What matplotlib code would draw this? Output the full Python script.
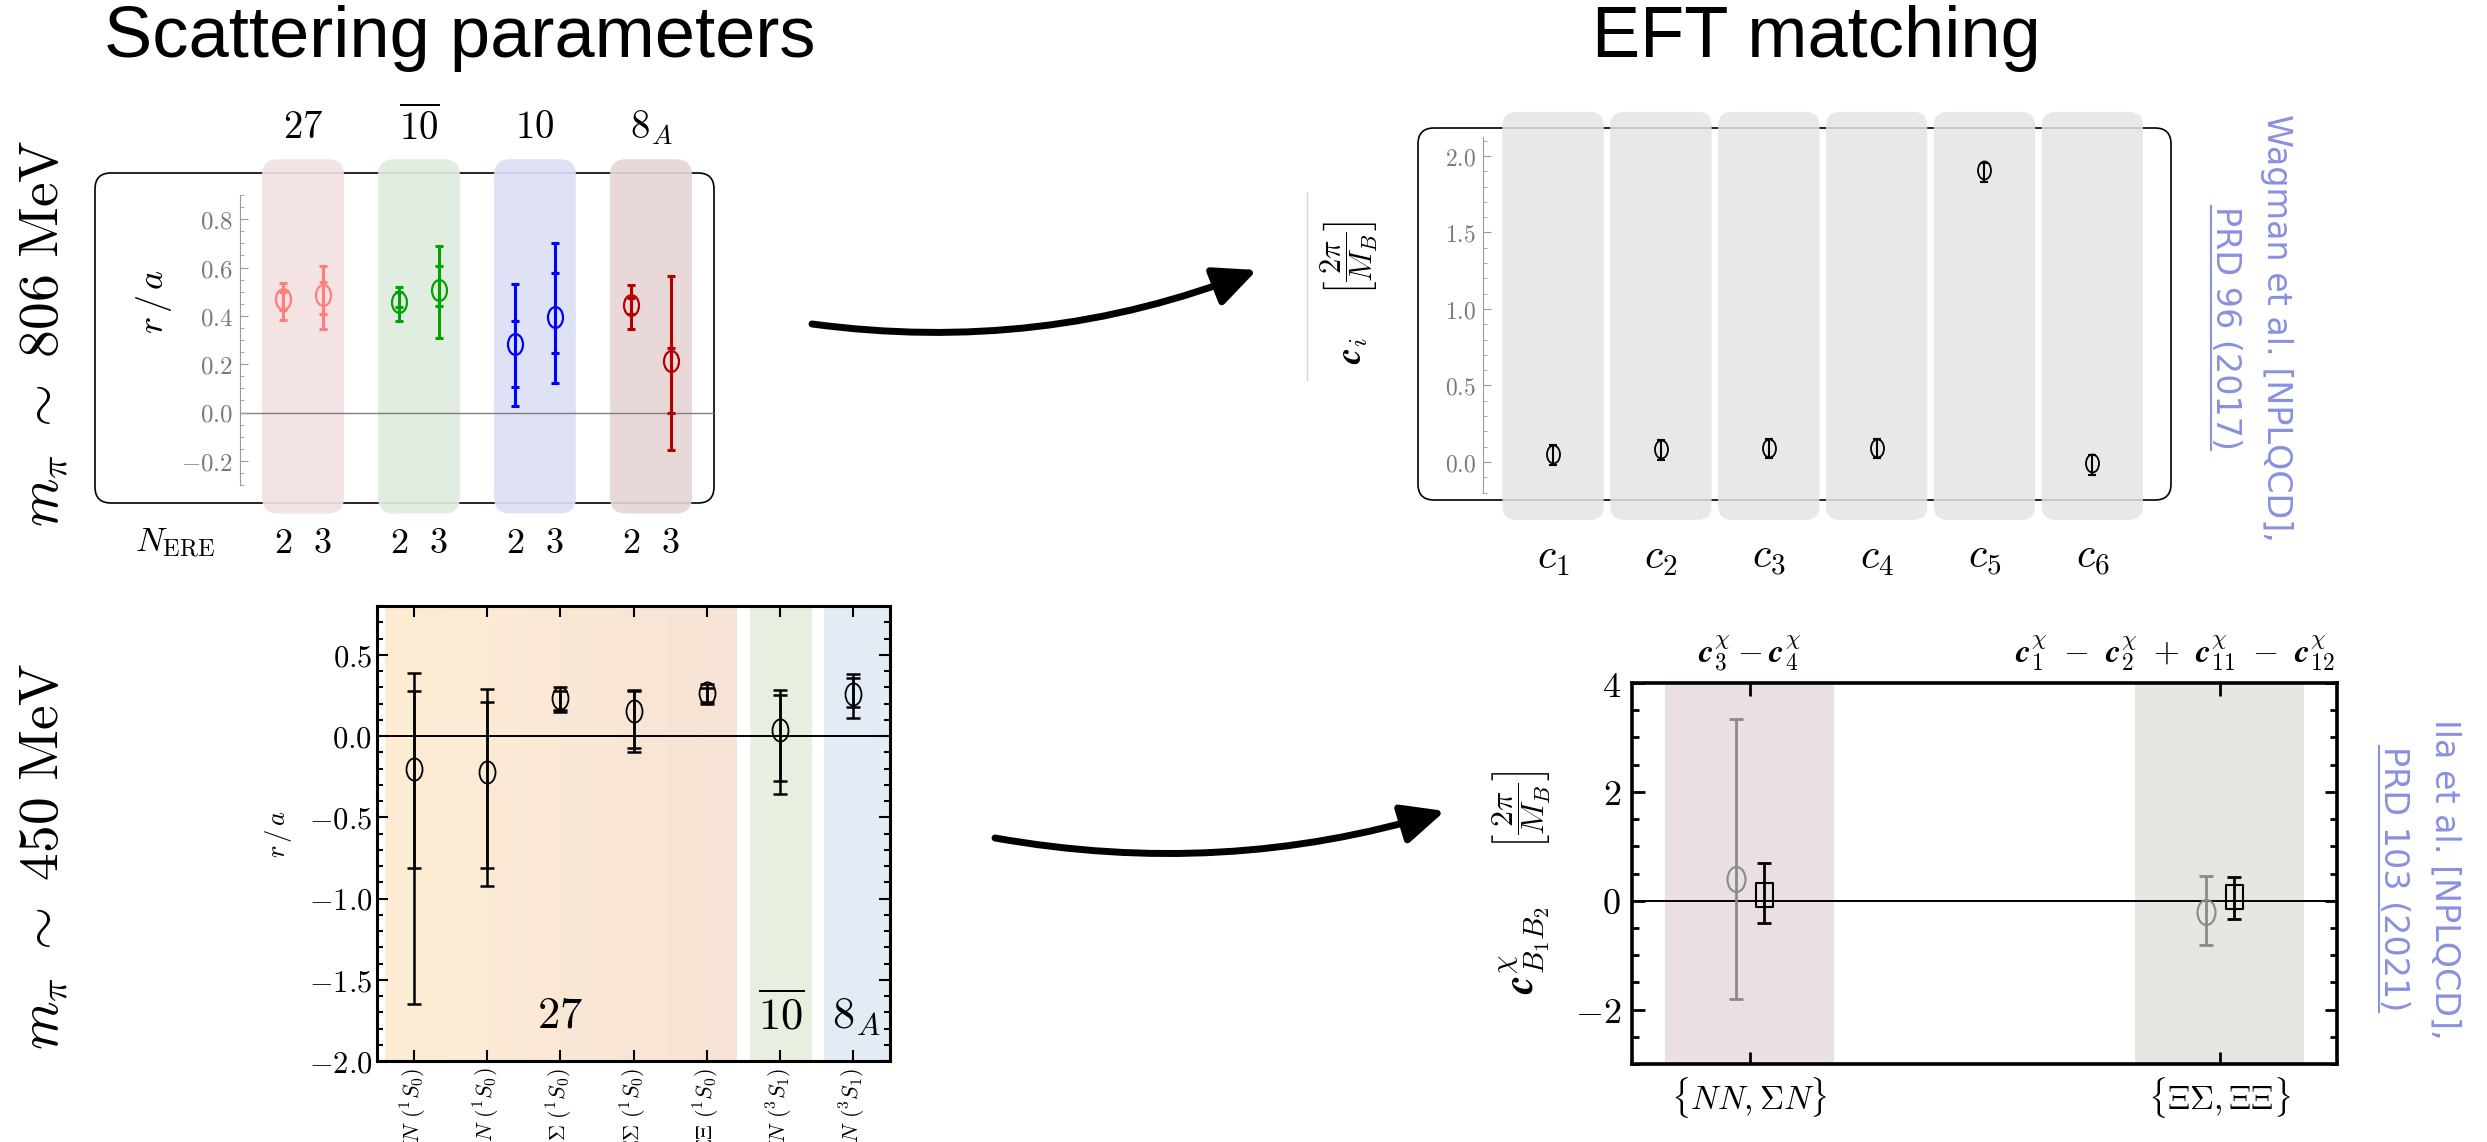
import numpy as np
import matplotlib
matplotlib.use('Agg')
import matplotlib.pyplot as plt
from matplotlib import font_manager as fm
from matplotlib.patches import FancyBboxPatch, FancyArrowPatch
from matplotlib.path import Path
from matplotlib.transforms import Affine2D
from matplotlib.ticker import MultipleLocator, FuncFormatter
from matplotlib.colors import LinearSegmentedColormap

plt.rcParams['mathtext.fontset'] = 'cm'
plt.rcParams['font.family'] = ['DejaVu Sans']

W, H = 2487, 1142

# --- m_pi ~ 806 MeV : r/a for each irrep, N_ERE = 2, 3
irreps_806 = [r'$27$', r'$\overline{10}$', r'$10$', r'$8_A$']
n_ere = [r'$2$', r'$3$']
ra806 = [0.469, 0.487, 0.459, 0.508, 0.284, 0.397, 0.446, 0.215]
ra806_in_lo = [0.425, 0.407, 0.436, 0.439, 0.105, 0.246, 0.408, -0.003]
ra806_in_hi = [0.500, 0.539, 0.500, 0.608, 0.378, 0.579, 0.473, 0.266]
ra806_out_lo = [0.381, 0.346, 0.377, 0.308, 0.028, 0.124, 0.346, -0.154]
ra806_out_hi = [0.535, 0.607, 0.521, 0.687, 0.530, 0.703, 0.527, 0.563]
colors_806 = ['#FF7D7D', '#00A300', '#0000FF', '#B50000']
bands_806 = ['#F2E1E1', '#E0ECE0', '#DDE0F5', '#E6D5D5']

# --- m_pi ~ 450 MeV : r/a per channel
channels_450 = [r'$NN\ (^1S_0)$', r'$\Sigma N\ (^1S_0)$', r'$\Sigma\Sigma\ (^1S_0)$',
                r'$\Xi\Sigma\ (^1S_0)$', r'$\Xi\Xi\ (^1S_0)$', r'$NN\ (^3S_1)$',
                r'$\Xi N\ (^3S_1)$']
ra450 = [-0.202, -0.222, 0.236, 0.152, 0.267, 0.039, 0.260]
ra450_in_lo = [-0.814, -0.814, 0.159, -0.072, 0.212, -0.275, 0.176]
ra450_in_hi = [0.280, 0.212, 0.280, 0.280, 0.296, 0.255, 0.357]
ra450_out_lo = [-1.648, -0.920, 0.145, -0.096, 0.195, -0.354, 0.111]
ra450_out_hi = [0.386, 0.289, 0.304, 0.284, 0.320, 0.284, 0.381]
irreps_450 = [r'$27$', r'$\overline{10}$', r'$8_A$']
irrep_span_450 = [(-0.39, 4.41), (4.59, 5.44), (5.60, 6.48)]

# --- EFT couplings c_i (Wagman et al.)
coef_labels = [r'$c_1$', r'$c_2$', r'$c_3$', r'$c_4$', r'$c_5$', r'$c_6$']
ci = [0.050, 0.083, 0.093, 0.093, 1.907, -0.009]
ci_lo = [-0.022, 0.013, 0.026, 0.026, 1.831, -0.085]
ci_hi = [0.109, 0.143, 0.148, 0.152, 1.954, 0.046]

# --- chiral combinations (Illa et al.)
combo_labels = [r'$\{NN, \Sigma N\}$', r'$\{\Xi\Sigma, \Xi\Xi\}$']
combo_titles = [r'$\mathbfit{c}^{\chi}_3 - \mathbfit{c}^{\chi}_4$',
                r'$\mathbfit{c}^{\chi}_1\ -\ \mathbfit{c}^{\chi}_2\ +\ \mathbfit{c}^{\chi}_{11}\ -\ \mathbfit{c}^{\chi}_{12}$']
cchi_a = [0.40, -0.20]
cchi_a_lo = [-1.80, -0.81]
cchi_a_hi = [3.33, 0.45]
cchi_b = [0.11, 0.06]
cchi_b_lo = [-0.41, -0.33]
cchi_b_hi = [0.69, 0.43]

# narrow sans for the reference notes, if it is there
try:
    fm.findfont('Liberation Sans Narrow', fallback_to_default=False)
    ref_font, ref_fs = 'Liberation Sans Narrow', 32
except ValueError:
    ref_font, ref_fs = 'DejaVu Sans', 24

ell = Path.unit_circle().transformed(Affine2D().scale(0.72, 1.0))
rect = Path.unit_rectangle().transformed(Affine2D().translate(-0.5, -0.5).scale(0.72, 1.0))

fig = plt.figure(figsize=(W / 100, H / 100), dpi=100)

# pixel overlay (y downward) for frames, arrows and free text
ov = fig.add_axes([0, 0, 1, 1], zorder=0)
ov.set_xlim(0, W)
ov.set_ylim(H, 0)
ov.axis('off')


def px_axes(x0, y0, x1, y1):
    ax = fig.add_axes([x0 / W, 1 - y1 / H, (x1 - x0) / W, (y1 - y0) / H], zorder=2)
    ax.set_facecolor('none')
    return ax


def band(ax, x0, x1, y0, y1, color, rpx, alpha=1.0):
    pos = ax.get_position()
    xl, yl = ax.get_xlim(), ax.get_ylim()
    ppx = pos.width * W / (xl[1] - xl[0])
    ppy = pos.height * H / (yl[1] - yl[0])
    r = rpx / ppx
    p = FancyBboxPatch((x0, y0), x1 - x0, y1 - y0,
                       boxstyle=f'round,pad=0,rounding_size={r}',
                       mutation_aspect=ppx / ppy, fc=color, ec='none',
                       alpha=alpha, clip_on=False, zorder=0)
    ax.add_patch(p)


def errs(ax, x, y, lo, hi, color, lw, cap):
    y, lo, hi = np.asarray(y), np.asarray(lo), np.asarray(hi)
    ax.errorbar(x, y, yerr=[y - lo, hi - y], fmt='none', ecolor=color,
                elinewidth=lw, capsize=cap, capthick=lw, zorder=3, clip_on=False)


def mathfmt(digits):
    def f(v, p):
        v = round(v, digits)
        if v == 0:
            v = 0.0
        return f'${v:.{digits}f}$'
    return FuncFormatter(f)


# ================= top-left: r/a at m_pi ~ 806 MeV =================
ov.add_patch(FancyBboxPatch((95, 173), 619, 330, boxstyle='round,pad=0,rounding_size=16',
                            fc='white', ec='black', lw=1.2))
ax1 = px_axes(240, 195, 714, 485)
ax1.set_xlim(-0.543, 3.543)
ax1.set_ylim(-0.30, 0.90)
for s in ['top', 'right', 'bottom']:
    ax1.spines[s].set_visible(False)
ax1.spines['left'].set_color('#9a9a9a')
ax1.set_xticks([])
ax1.yaxis.set_major_locator(MultipleLocator(0.2))
ax1.yaxis.set_minor_locator(MultipleLocator(0.05))
ax1.yaxis.set_major_formatter(mathfmt(1))
ax1.tick_params(axis='y', which='both', direction='in', color='#9a9a9a',
                labelcolor='#7a7a7a', labelsize=18, pad=5)
ax1.tick_params(axis='y', which='major', length=6)
ax1.tick_params(axis='y', which='minor', length=3)
ax1.axhline(0, color='#808080', lw=1, zorder=1)
offs = [-0.17, 0.17]
for g in range(4):
    band(ax1, g - 0.353, g + 0.353, -0.418, 1.048, bands_806[g], 16, alpha=0.92)
    ax1.text(g, 1.18, irreps_806[g], ha='center', va='center', fontsize=28)
    xs = [g + o for o in offs]
    sl = slice(2 * g, 2 * g + 2)
    errs(ax1, xs, ra806[sl], ra806_out_lo[sl], ra806_out_hi[sl], colors_806[g], 2.2, 3)
    errs(ax1, xs, ra806[sl], ra806_in_lo[sl], ra806_in_hi[sl], colors_806[g], 2.2, 3)
    ax1.plot(xs, ra806[sl], ls='none', marker=ell, ms=15, mfc='none',
             mec=colors_806[g], mew=1.6, zorder=4)
    for n in range(2):
        ax1.text(xs[n], -0.542, n_ere[n], ha='center', va='center', fontsize=26)
ov.text(175, 543, r'$N_{\mathrm{ERE}}$', ha='center', va='center', fontsize=25)
ov.text(154, 301, r'$r\,/\,a$', ha='center', va='center', fontsize=26, rotation=90)

# ================= top-right: c_i =================
ov.add_patch(FancyBboxPatch((1418, 128), 753, 372, boxstyle='round,pad=0,rounding_size=16',
                            fc='white', ec='black', lw=1.2))
ax2 = px_axes(1483, 137, 2171, 493)
ax2.set_xlim(-0.65, 5.73)
ax2.set_ylim(-0.203, 2.124)
for s in ['top', 'right', 'bottom']:
    ax2.spines[s].set_visible(False)
ax2.spines['left'].set_color('#9a9a9a')
ax2.set_xticks([])
ax2.yaxis.set_major_locator(MultipleLocator(0.5))
ax2.yaxis.set_minor_locator(MultipleLocator(0.1))
ax2.yaxis.set_major_formatter(mathfmt(1))
ax2.tick_params(axis='y', which='both', direction='in', color='#9a9a9a',
                labelcolor='#7a7a7a', labelsize=17, pad=5)
ax2.tick_params(axis='y', which='major', length=6)
ax2.tick_params(axis='y', which='minor', length=3)
xc = np.arange(len(ci))
for i in xc:
    band(ax2, i - 0.47, i + 0.47, -0.379, 2.288, '#E4E4E4', 14, alpha=0.85)
    ax2.text(i, -0.62, coef_labels[i], ha='center', va='center', fontsize=30)
errs(ax2, xc, ci, ci_lo, ci_hi, 'black', 1.5, 3)
ax2.plot(xc, ci, ls='none', marker=ell, ms=13, mfc='none', mec='black', mew=1.3, zorder=4)
ov.plot([1307, 1307], [192, 380], color='#d5d5d5', lw=1)
ov.text(1353, 350, r'$\mathbfit{c}_i$', ha='center', va='center', fontsize=26, rotation=90)
ov.text(1349, 258, r'$\left[\dfrac{2\pi}{M_B}\right]$', ha='center', va='center',
        fontsize=22, rotation=90)

# ================= bottom-left: r/a at m_pi ~ 450 MeV =================
ax3 = px_axes(377, 606, 890, 1061)
ax3.set_xlim(-0.5, 6.5)
ax3.set_ylim(-2.0, 0.8)
grad = LinearSegmentedColormap.from_list('g27', ['#FDEDD4', '#F7E3D6'])
s0, s1 = irrep_span_450[0]
ax3.imshow(np.linspace(0, 1, 256)[None, :], cmap=grad, aspect='auto',
           extent=[s0, s1, -2.0, 0.8], zorder=0)
ax3.axvspan(*irrep_span_450[1], color='#E6EFE0', lw=0, zorder=0)
ax3.axvspan(*irrep_span_450[2], color='#E3EBF5', lw=0, zorder=0)
ax3.set_xlim(-0.5, 6.5)
ax3.set_ylim(-2.0, 0.8)
ax3.axhline(0, color='black', lw=1.4, zorder=1)
xch = np.arange(len(ra450))
errs(ax3, xch, ra450, ra450_out_lo, ra450_out_hi, 'black', 1.8, 5)
errs(ax3, xch, ra450, ra450_in_lo, ra450_in_hi, 'black', 1.8, 5)
ax3.plot(xch, ra450, ls='none', marker=ell, ms=16, mfc='none', mec='black', mew=1.3, zorder=4)
for sp in ax3.spines.values():
    sp.set_linewidth(2.2)
ax3.set_xticks(xch)
ax3.set_xticklabels(channels_450, rotation=90)
ax3.yaxis.set_major_locator(MultipleLocator(0.5))
ax3.yaxis.set_minor_locator(MultipleLocator(0.1))
ax3.yaxis.set_major_formatter(mathfmt(1))
ax3.tick_params(which='both', direction='in', top=True, right=True, width=1.5)
ax3.tick_params(which='major', length=8)
ax3.tick_params(axis='y', which='major', labelsize=22)
ax3.tick_params(axis='x', which='major', labelsize=16, pad=5)
ax3.tick_params(which='minor', length=4)
ax3.tick_params(axis='x', which='minor', bottom=False, top=False)
for (a, b), lab in zip(irrep_span_450, irreps_450):
    ax3.text((a + b) / 2 if lab != r'$27$' else 2.0, -1.72, lab, ha='center', va='center',
             fontsize=32)
ov.text(279, 834, r'$r\,/\,a$', ha='center', va='center', fontsize=19, rotation=90)

# ================= bottom-right: chiral combinations =================
ax4 = px_axes(1632, 683, 2337, 1064)
ax4.set_xlim(-0.25, 1.25)
ax4.set_ylim(-3, 4)
ax4.axvspan(-0.18, 0.18, color='#E9DFE4', lw=0, zorder=0)
ax4.axvspan(0.82, 1.18, color='#E8E6E0', lw=0, zorder=0)
ax4.axhline(0, color='black', lw=1.4, zorder=1)
xk = np.arange(len(cchi_a))
errs(ax4, xk - 0.028, cchi_a, cchi_a_lo, cchi_a_hi, '#8a8a8a', 2.0, 5)
ax4.plot(xk - 0.028, cchi_a, ls='none', marker=ell, ms=18, mfc='none', mec='#8a8a8a',
         mew=1.5, zorder=4)
errs(ax4, xk + 0.03, cchi_b, cchi_b_lo, cchi_b_hi, 'black', 2.0, 5)
ax4.plot(xk + 0.03, cchi_b, ls='none', marker=rect, ms=17, mfc='none', mec='black',
         mew=1.5, zorder=4)
for sp in ax4.spines.values():
    sp.set_linewidth(2.6)
ax4.set_xticks(xk)
ax4.set_xticklabels(combo_labels, fontsize=24)
ax4.yaxis.set_major_locator(MultipleLocator(2))
ax4.yaxis.set_minor_locator(MultipleLocator(0.5))
ax4.yaxis.set_major_formatter(mathfmt(0))
ax4.tick_params(which='both', direction='in', top=True, right=True, width=2)
ax4.tick_params(which='major', length=9, pad=8)
ax4.tick_params(axis='y', which='major', labelsize=26)
ax4.tick_params(axis='x', which='major', labelsize=24)
ax4.tick_params(which='minor', length=5)
ax4.tick_params(axis='x', which='minor', bottom=False, top=False)
ax4.text(0, 4.55, combo_titles[0], ha='center', va='center', fontsize=24)
ax4.text(1.245, 4.55, combo_titles[1], ha='right', va='center', fontsize=24)
ov.text(1525, 950, r'$\mathbfit{c}^{\chi}_{B_1B_2}$', ha='center', va='center',
        fontsize=30, rotation=90)
ov.text(1522, 810, r'$\left[\dfrac{2\pi}{M_B}\right]$', ha='center', va='center',
        fontsize=23, rotation=90)

# ================= titles, row labels, arrows, references =================
ov.text(460, 38, 'Scattering parameters', ha='center', va='center', fontsize=52,
        family='Liberation Sans')
ov.text(1816, 38, 'EFT matching', ha='center', va='center', fontsize=52,
        family='Liberation Sans')
ov.text(43, 333, r'$m_\pi\ \sim\ 806\ \mathrm{MeV}$', ha='center', va='center',
        fontsize=40, rotation=90)
ov.text(43, 856, r'$m_\pi\ \sim\ 450\ \mathrm{MeV}$', ha='center', va='center',
        fontsize=40, rotation=90)

for (a, b, rad) in [((812, 324), (1257, 270), 0.13), ((995, 838), (1445, 811), 0.12)]:
    ov.add_patch(FancyArrowPatch(a, b, connectionstyle=f'arc3,rad={rad}',
                                 arrowstyle='-|>,head_length=26,head_width=12',
                                 mutation_scale=1, lw=5, color='black',
                                 shrinkA=0, shrinkB=0))

ref_col = '#8890E0'
refs = [('Wagman et al. [NPLQCD],', 'PRD 96 (2017)', 2277, 2225, 328),
        ('Ila et al. [NPLQCD],', 'PRD 103 (2021)', 2445, 2393, 879)]
ref2_texts = []
for l1, l2, x1, x2, yc in refs:
    ov.text(x1, yc, l1, rotation=-90, ha='center', va='center', fontsize=ref_fs,
            color=ref_col, family=ref_font)
    ref2_texts.append(ov.text(x2, yc, l2, rotation=-90, ha='center', va='center',
                              fontsize=ref_fs, color=ref_col, family=ref_font))

fig.canvas.draw()
inv = ov.transData.inverted()
for t in ref2_texts:
    bb = t.get_window_extent()
    (x0, y0), (x1, y1) = inv.transform([(bb.x0, bb.y0), (bb.x1, bb.y1)])
    ov.plot([x0 + 2, x0 + 2], [y0, y1], color=ref_col, lw=1.5)

fig.savefig('out.png', dpi=100)
